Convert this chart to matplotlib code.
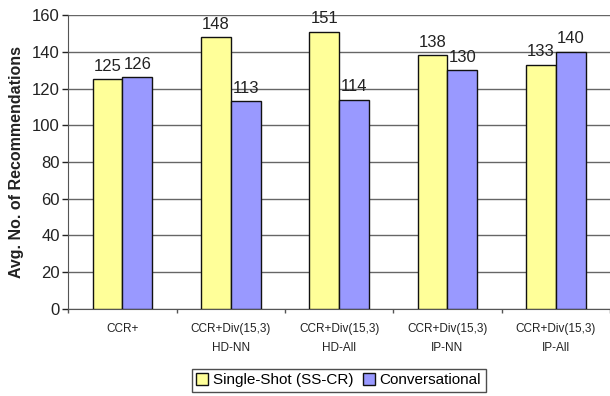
import numpy as np
import matplotlib
matplotlib.use("Agg")
import matplotlib.pyplot as plt

plt.rcParams['font.family'] = ['Liberation Sans', 'DejaVu Sans']

categories = ["CCR+", "CCR+Div(15,3)\nHD-NN", "CCR+Div(15,3)\nHD-All",
              "CCR+Div(15,3)\nIP-NN", "CCR+Div(15,3)\nIP-All"]
single_shot = [125, 148, 151, 138, 133]
conversational = [126, 113, 114, 130, 140]
yticks = [0, 20, 40, 60, 80, 100, 120, 140, 160]

fig = plt.figure(figsize=(6.10, 3.96), dpi=100)
ax = fig.add_axes([0.112, 0.22, 0.888, 0.742])

x = np.arange(len(categories))
w = 0.276
b1 = ax.bar(x - w / 2, single_shot, w, color="#FFFF99", edgecolor="#111111",
            linewidth=1, label="Single-Shot (SS-CR)", zorder=3)
b2 = ax.bar(x + w / 2, conversational, w, color="#9999FF", edgecolor="#111111",
            linewidth=1, label="Conversational", zorder=3)

for bars, vals in ((b1, single_shot), (b2, conversational)):
    for rect, v in zip(bars, vals):
        ax.annotate(str(v), (rect.get_x() + rect.get_width() / 2, v),
                    xytext=(0, 4), textcoords="offset points",
                    ha="center", va="bottom", fontsize=12, color="#222222", zorder=2)

ax.set_xlim(-0.5, len(categories) - 0.5)
ax.set_ylim(0, 160)
ax.set_yticks(yticks)
ax.tick_params(axis="y", labelsize=12, colors="#222222", length=4, width=1, pad=2)
ax.yaxis.grid(True, color="#666666", linewidth=1)
ax.set_axisbelow(True)

# labels centred under each group, tick marks on the boundaries
ax.set_xticks(x)
ax.set_xticklabels(categories, fontsize=8.5, color="#222222", linespacing=1.75)
ax.tick_params(axis="x", which="major", length=0, pad=10)
ax.set_xticks(np.arange(-0.5, len(categories), 1), minor=True)
ax.tick_params(axis="x", which="minor", length=3, width=1, color="#555555")

for s in ("top", "right"):
    ax.spines[s].set_visible(False)
ax.spines["left"].set_color("#555555")
ax.spines["bottom"].set_color("#555555")

ax.set_ylabel("Avg. No. of Recommendations", fontsize=11.5, fontweight="bold",
              color="#222222", labelpad=6)

leg = fig.legend(loc="center", bbox_to_anchor=(0.555, 0.04), ncol=2,
                 fontsize=11, frameon=True, fancybox=False, edgecolor="#222222",
                 handlelength=0.8, handleheight=0.8, handletextpad=0.3,
                 columnspacing=0.6, borderpad=0.3, borderaxespad=0)
leg.get_frame().set_linewidth(1)

fig.savefig("out.png", dpi=100)
